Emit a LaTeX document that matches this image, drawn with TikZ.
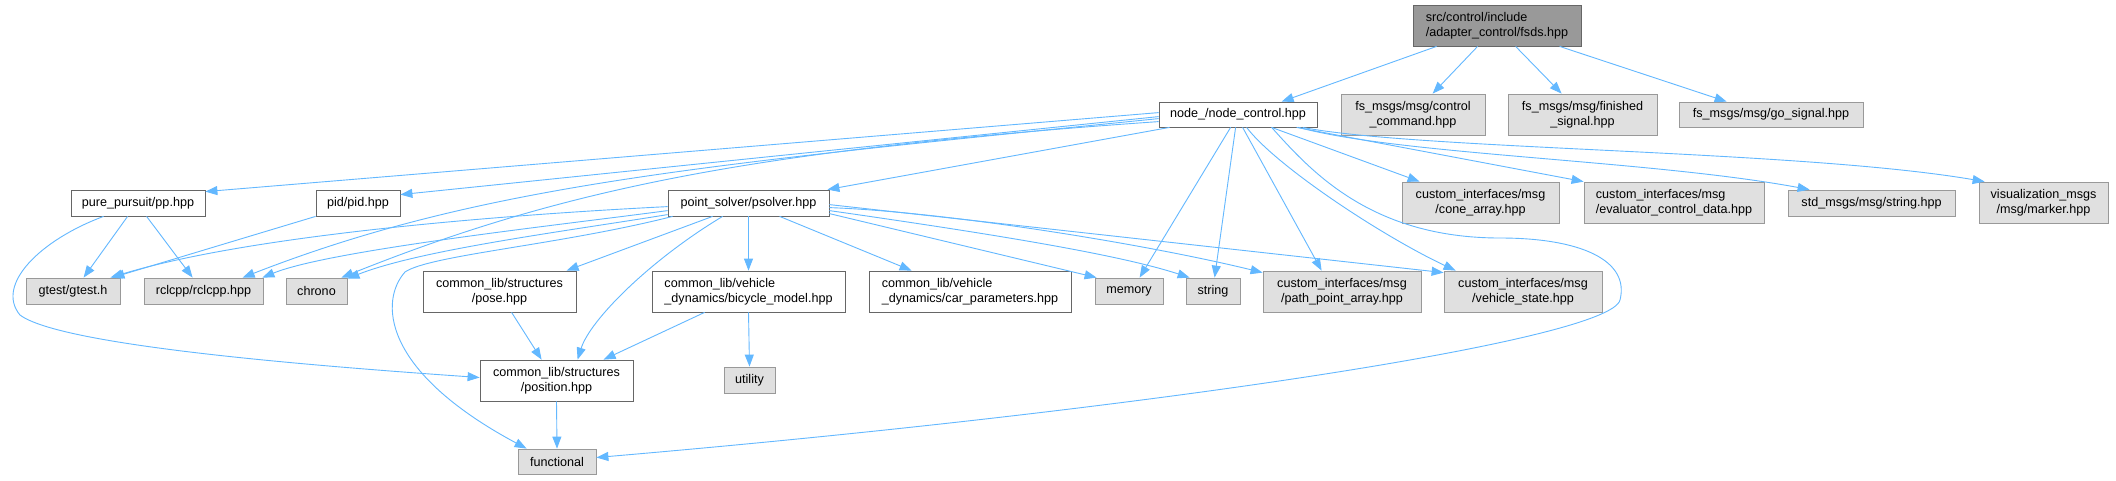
\documentclass[tikz,border=0pt]{standalone}
\usepackage{fontspec}
\setmainfont{Liberation Sans}
\usetikzlibrary{arrows.meta,calc}
\definecolor{edgeblue}{HTML}{63B8FF}
\definecolor{darkborder}{HTML}{666666}
\definecolor{lightborder}{HTML}{999999}
\definecolor{extfill}{HTML}{E0E0E0}
\definecolor{rootfill}{HTML}{999999}
\tikzset{
  base/.style={draw, line width=0.8pt, inner sep=0pt, font=\fontsize{12.6}{15}\selectfont, text=black},
  rootbox/.style={base, fill=rootfill, draw=darkborder},
  localbox/.style={base, fill=white, draw=darkborder},
  extbox/.style={base, fill=extfill, draw=lightborder},
  edge/.style={draw=edgeblue, line width=0.9pt, -{Triangle[length=12pt,width=9pt]}},
}
\begin{document}
\begin{tikzpicture}[x=1pt,y=-1pt]
\useasboundingbox (0,0) rectangle (2116,480);
\fill[white] (0,0) rectangle (2116,480);
% row 0
\node[rootbox, minimum width=168pt, minimum height=41pt, align=left] (fsds) at (1497,25.5) {src/control/include\\/adapter\_control/fsds.hpp};
% row 1
\node[localbox, minimum width=158pt, minimum height=25pt] (nc) at (1238,114.5) {node\_/node\_control.hpp};
\node[extbox, minimum width=144pt, minimum height=41pt, align=center] (fsctl) at (1413,114.5) {fs\_msgs/msg/control\\\_command.hpp};
\node[extbox, minimum width=149pt, minimum height=41pt, align=center] (fsfin) at (1582.5,114.5) {fs\_msgs/msg/finished\\\_signal.hpp};
\node[extbox, minimum width=184pt, minimum height=25pt] (gosig) at (1771,114.5) {fs\_msgs/msg/go\_signal.hpp};
% row 2
\node[localbox, minimum width=134pt, minimum height=26pt] (pp) at (138,203) {pure\_pursuit/pp.hpp};
\node[localbox, minimum width=84pt, minimum height=26pt] (pid) at (358,203) {pid/pid.hpp};
\node[localbox, minimum width=161pt, minimum height=26pt] (ps) at (748.5,203) {point\_solver/psolver.hpp};
\node[extbox, minimum width=157pt, minimum height=41pt, align=center] (cone) at (1480.5,202.5) {custom\_interfaces/msg\\/cone\_array.hpp};
\node[extbox, minimum width=180pt, minimum height=41pt, align=left] (eval) at (1674,202.5) {custom\_interfaces/msg\\/evaluator\_control\_data.hpp};
\node[extbox, minimum width=167pt, minimum height=26pt] (stdstr) at (1871.5,203) {std\_msgs/msg/string.hpp};
\node[extbox, minimum width=129pt, minimum height=41pt, align=center] (vis) at (2043.5,202.5) {visualization\_msgs\\/msg/marker.hpp};
% row 3
\node[extbox, minimum width=94pt, minimum height=26pt] (gtest) at (73,291) {gtest/gtest.h};
\node[extbox, minimum width=119pt, minimum height=26pt] (rcl) at (203.5,291) {rclcpp/rclcpp.hpp};
\node[extbox, minimum width=61pt, minimum height=26pt] (chrono) at (316.5,291) {chrono};
\node[localbox, minimum width=153pt, minimum height=41pt, align=center] (pose) at (499.5,291.5) {common\_lib/structures\\/pose.hpp};
\node[localbox, minimum width=193pt, minimum height=41pt, align=left] (bike) at (748.5,291.5) {common\_lib/vehicle\\\_dynamics/bicycle\_model.hpp};
\node[localbox, minimum width=202pt, minimum height=41pt, align=left] (car) at (970,291.5) {common\_lib/vehicle\\\_dynamics/car\_parameters.hpp};
\node[extbox, minimum width=68pt, minimum height=26pt] (mem) at (1129,291) {memory};
\node[extbox, minimum width=54pt, minimum height=26pt] (str) at (1213,291) {string};
\node[extbox, minimum width=158pt, minimum height=41pt, align=center] (path) at (1342,291.5) {custom\_interfaces/msg\\/path\_point\_array.hpp};
\node[extbox, minimum width=158pt, minimum height=41pt, align=center] (vstate) at (1523,291.5) {custom\_interfaces/msg\\/vehicle\_state.hpp};
% row 4
\node[localbox, minimum width=153pt, minimum height=41pt, align=center] (pos) at (556.5,380.5) {common\_lib/structures\\/position.hpp};
\node[extbox, minimum width=51pt, minimum height=26pt] (util) at (749.5,380) {utility};
% row 5
\node[extbox, minimum width=78pt, minimum height=25pt] (func) at (557,461.5) {functional};

% edges from fsds
\draw[edge] ($(fsds.south west)+(24,0)$) -- ($(nc.north west)+(123,0)$);
\draw[edge] ($(fsds.south west)+(65,0)$) -- ($(fsctl.north west)+(92,0)$);
\draw[edge] ($(fsds.south west)+(103,0)$) -- ($(fsfin.north west)+(54,0)$);
\draw[edge] ($(fsds.south west)+(147,0)$) -- ($(gosig.north west)+(48,0)$);

% edges from node_control
\draw[edge] ($(nc.north west)+(0,11)$) -- ($(pp.north east)+(0,2)$);
\draw[edge] ($(nc.north west)+(0,15)$) -- ($(pid.north east)+(0,5)$);
\draw[edge] ($(nc.north west)+(0,17)$) .. controls (700,165) and (480,185) .. ($(rcl.north west)+(99,0)$);
\draw[edge] ($(nc.north west)+(0,20)$) .. controls (750,150) and (560,190) .. ($(chrono.north east)+(-6,0)$);
\draw[edge] ($(nc.south west)+(11,0)$) -- ($(ps.north east)+(-2,0)$);
\draw[edge] ($(nc.south west)+(72,0)$) -- ($(mem.north west)+(45,0)$);
\draw[edge] ($(nc.south west)+(77,0)$) -- ($(str.north west)+(29,0)$);
\draw[edge] ($(nc.south west)+(84,0)$) -- ($(path.north west)+(59,0)$);
\draw[edge] ($(nc.south west)+(88,0)$) .. controls (1275,165) and (1380,235) .. ($(vstate.north west)+(12,0)$);
\draw[edge] ($(nc.south west)+(113,0)$) .. controls (1310,170) and (1370,238) .. (1500,238) .. controls (1580,238) and (1630,260) .. (1620,300) .. controls (1610,340) and (1150,410) .. ($(func.east)+(0,-4)$);
\draw[edge] ($(nc.south west)+(113,0)$) -- ($(cone.north west)+(18,0)$);
\draw[edge] ($(nc.south west)+(138,0)$) -- (eval.north west);
\draw[edge] ($(nc.south west)+(140,0)$) .. controls (1400,155) and (1650,160) .. ($(stdstr.north west)+(22,0)$);
\draw[edge] ($(nc.south west)+(144,0)$) .. controls (1420,150) and (1800,150) .. ($(vis.north west)+(6,0)$);

% edges from point_solver
\draw[edge] ($(ps.north west)+(0,17)$) .. controls (500,215) and (250,235) .. ($(gtest.north east)+(-10,0)$);
\draw[edge] ($(ps.north west)+(0,21)$) .. controls (560,225) and (330,250) .. ($(rcl.north east)+(-1,0)$);
\draw[edge] ($(ps.north west)+(0,25)$) .. controls (560,232) and (420,250) .. ($(chrono.north east)+(0,1)$);
\draw[edge] ($(ps.south west)+(5,0)$) .. controls (560,245) and (430,255) .. (405,272) .. controls (380,300) and (380,370) .. ($(func.north west)+(9,0)$);
\draw[edge] ($(ps.south west)+(45,0)$) -- ($(pose.north west)+(144,0)$);
\draw[edge] ($(ps.south west)+(55,0)$) .. controls (650,260) and (590,320) .. ($(pos.north west)+(98,0)$);
\draw[edge] (ps.south) -- (bike.north);
\draw[edge] ($(ps.south west)+(112,0)$) -- ($(car.north west)+(43,0)$);
\draw[edge] ($(ps.north east)+(0,24)$) -- ($(mem.north west)+(2,0)$);
\draw[edge] ($(ps.north east)+(0,21)$) .. controls (1000,235) and (1120,255) .. ($(str.north west)+(4,0)$);
\draw[edge] ($(ps.north east)+(0,18)$) .. controls (950,212) and (1150,245) .. ($(path.north west)+(0,2)$);
\draw[edge] ($(ps.north east)+(0,15)$) -- ($(vstate.north west)+(0,2)$);

% edges from pure_pursuit
\draw[edge] ($(pp.south west)+(57,0)$) -- ($(gtest.north west)+(58,0)$);
\draw[edge] ($(pp.south west)+(76,0)$) -- ($(rcl.north west)+(49,0)$);
\draw[edge] ($(pp.south west)+(33,0)$) .. controls (40,240) and (-5,285) .. (20,315) .. controls (60,345) and (300,365) .. ($(pos.west)+(0,-3)$);

% other edges
\draw[edge] (pid.south west) -- ($(gtest.north east)+(-8,0)$);
\draw[edge] ($(pose.south west)+(89,0)$) -- ($(pos.north west)+(62,0)$);
\draw[edge] ($(bike.south west)+(53,0)$) -- ($(pos.north west)+(124,0)$);
\draw[edge] (bike.south) -- (util.north);
\draw[edge] (pos.south) -- (func.north);
\end{tikzpicture}
\end{document}
